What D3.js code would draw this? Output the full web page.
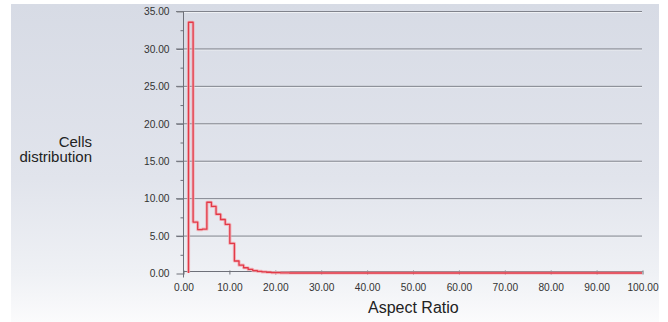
<!DOCTYPE html>
<html>
<head>
<meta charset="utf-8">
<script src="https://cdn.jsdelivr.net/npm/d3@7"></script>
<style>
  html, body { margin: 0; padding: 0; background: #fff; }
  svg { display: block; }
  .tick-label { font-family: "Liberation Sans", Arial, sans-serif; font-size: 10.2px; fill: #333; }
  .title { font-family: "Liberation Sans", Arial, sans-serif; fill: #222; }
</style>
</head>
<body>
<svg id="chart" width="668" height="322"></svg>
<script>
// histogram bins: left edge of each bin (aspect ratio) and its share of cells (%)
var binStarts = [1.2, 2.2, 3.2, 4.2, 5.2, 6.2, 7.2, 8.2, 9.2, 10.2, 11.2, 12.2, 13.2, 14.2,
                 15.2, 16.2, 17.2, 18.2, 19.2, 20.2, 21.2, 22.2, 23.2];
var binValues = [33.5, 6.8, 5.8, 5.85, 9.45, 8.9, 7.85, 7.15, 6.5, 3.95, 1.6, 1.05, 0.7, 0.48,
                 0.33, 0.22, 0.15, 0.1, 0.06, 0.04, 0.02, 0.01, 0];
var binWidth = 1;
var yTicks = [0, 5, 10, 15, 20, 25, 30, 35];
var yMinor = [2.5, 7.5, 12.5, 17.5, 22.5, 27.5, 32.5];
var xTicks = [0, 10, 20, 30, 40, 50, 60, 70, 80, 90, 100];

(function () {
  var svg = d3.select('#chart');
  var plotL = 183, plotR = 642, plotT = 11, plotB = 273;

  var x = d3.scaleLinear().domain([0, 100]).range([plotL, plotR]);
  var y = d3.scaleLinear().domain([0, 35]).range([plotB, plotT]);

  // panel background with a soft vertical fade
  var defs = svg.append('defs');
  var grad = defs.append('linearGradient').attr('id', 'bg').attr('x1', 0).attr('y1', 0).attr('x2', 0).attr('y2', 1);
  grad.append('stop').attr('offset', '0%').attr('stop-color', '#d7dbe5');
  grad.append('stop').attr('offset', '55%').attr('stop-color', '#e1e4ec');
  grad.append('stop').attr('offset', '85%').attr('stop-color', '#eff1f5');
  grad.append('stop').attr('offset', '100%').attr('stop-color', '#fbfbfc');
  svg.append('rect').attr('x', 11).attr('y', 4).attr('width', 648).attr('height', 318).attr('fill', 'url(#bg)');

  // gridlines (dark line with a light edge under it)
  var grid = svg.append('g');
  yTicks.filter(function (d) { return d > 0; }).forEach(function (d) {
    grid.append('line').attr('x1', plotL - 7).attr('x2', plotR).attr('y1', y(d) + 1.5).attr('y2', y(d) + 1.5)
      .attr('stroke', '#eef0f4').attr('stroke-width', 1);
    grid.append('line').attr('x1', plotL - 7).attr('x2', plotR).attr('y1', y(d) + 0.5).attr('y2', y(d) + 0.5)
      .attr('stroke', '#80838c').attr('stroke-width', 1);
  });

  // y axis
  var yAxis = d3.axisLeft(y).tickValues(yTicks).tickSize(7).tickPadding(7)
    .tickFormat(function (d) { return d3.format('.2f')(d); });
  var gy = svg.append('g').attr('transform', 'translate(' + (plotL + 0.5) + ',0.5)').call(yAxis);
  gy.select('.domain').attr('stroke', '#6e7079').attr('d', 'M0,' + plotT + 'V' + (plotB + 4));
  gy.selectAll('.tick line').attr('stroke', '#6e7079');
  gy.selectAll('.tick text').attr('class', 'tick-label').attr('fill', null);
  gy.attr('font-family', null).attr('font-size', null);

  var gyMinor = svg.append('g').attr('transform', 'translate(' + (plotL + 0.5) + ',0.5)')
    .call(d3.axisLeft(y).tickValues(yMinor).tickSize(3).tickFormat(''));
  gyMinor.select('.domain').remove();
  gyMinor.selectAll('.tick line').attr('stroke', '#6e7079');

  // x axis
  var xAxis = d3.axisBottom(x).tickValues(xTicks).tickSize(3).tickPadding(9)
    .tickFormat(function (d) { return d3.format('.2f')(d); });
  var gx = svg.append('g').attr('transform', 'translate(0.5,' + (plotB - 1.5) + ')').call(xAxis);
  gx.select('.domain').attr('stroke', '#6e7079').attr('d', 'M' + plotL + ',0H' + plotR);
  gx.selectAll('.tick line').attr('stroke', '#6e7079').attr('y1', -1);
  gx.selectAll('.tick text').attr('class', 'tick-label').attr('fill', null);
  gx.attr('font-family', null).attr('font-size', null);

  // step line of the distribution
  var pts = [[binStarts[0], 0]];
  binStarts.forEach(function (s, i) {
    pts.push([s, binValues[i]]);
    pts.push([s + binWidth, binValues[i]]);
  });
  pts.push([100, 0]);
  var line = d3.line().x(function (d) { return x(d[0]); }).y(function (d) { return y(d[1]); });

  svg.append('path').datum(pts).attr('d', line).attr('fill', 'none')
    .attr('stroke', '#f2a9b0').attr('stroke-width', 3.2).attr('stroke-linejoin', 'round').attr('opacity', 0.8);
  svg.append('path').datum(pts).attr('d', line).attr('fill', 'none')
    .attr('stroke', '#e23a48').attr('stroke-width', 1.3).attr('stroke-linejoin', 'round');

  // titles
  svg.append('text').attr('class', 'title').attr('x', 368).attr('y', 313)
    .attr('font-size', 16).text('Aspect Ratio');
  var yt = svg.append('text').attr('class', 'title').attr('text-anchor', 'end').attr('font-size', 15);
  yt.append('tspan').attr('x', 92).attr('y', 147).text('Cells');
  yt.append('tspan').attr('x', 92).attr('y', 161.5).text('distribution');
})();
</script>
</body>
</html>
